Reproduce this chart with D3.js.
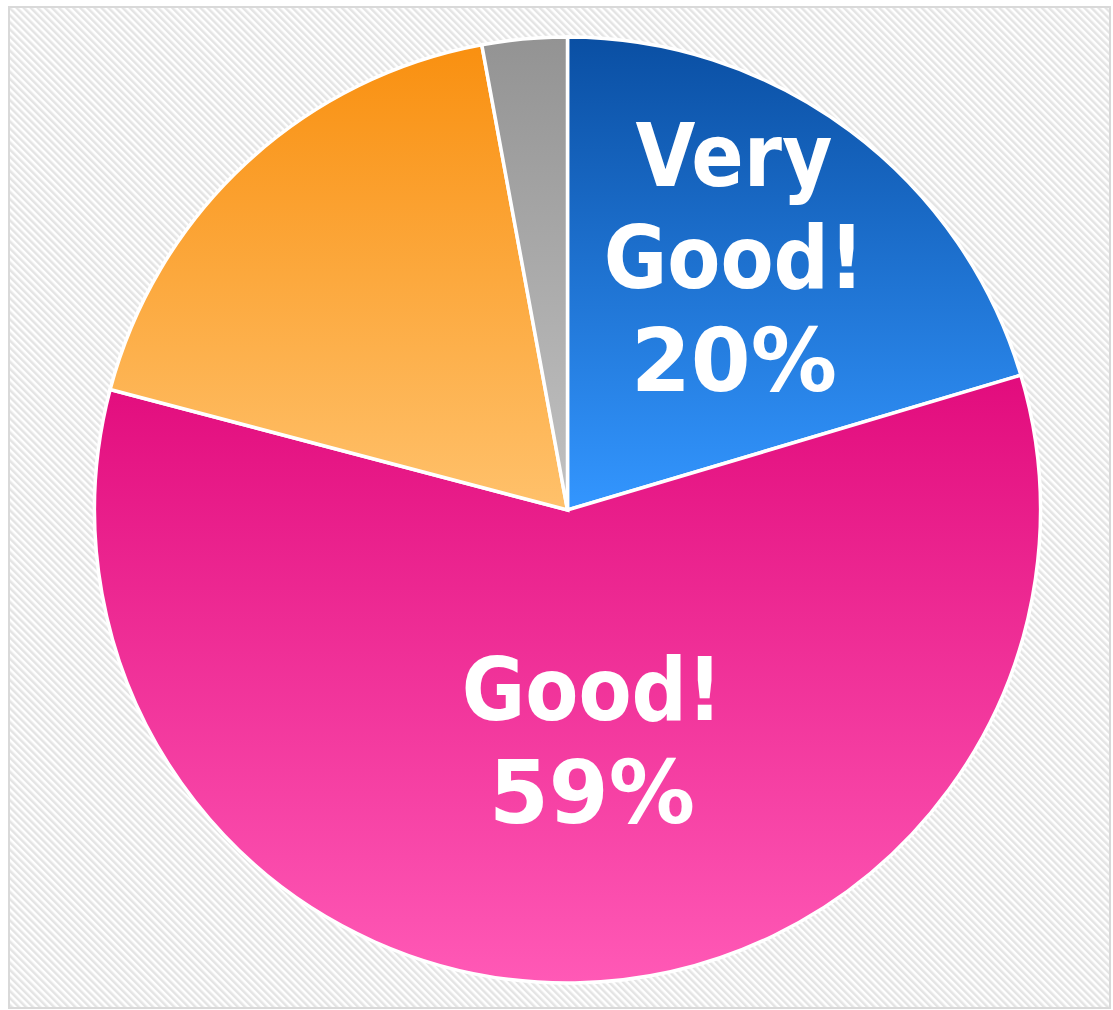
<!DOCTYPE html>
<html>
<head>
<meta charset="utf-8">
<script src="https://cdn.jsdelivr.net/npm/d3@7"></script>
<style>
  html, body { margin: 0; padding: 0; background: #ffffff; }
  svg { display: block; }
</style>
</head>
<body>
<div id="chart"></div>
<script>
// ---- data ----
const categories = ["Very Good!", "Good!", "Fair", "Poor"];
const values = [20.4, 58.7, 18.0, 2.9];
const showLabel = [true, true, false, false];
const gradTop = ["#0a4fa3", "#e20c7d", "#f99010", "#939393"];
const gradBottom = ["#3396ff", "#ff59b6", "#ffc16b", "#c2c2c2"];

const W = 1113, H = 1010;
const cx = 567.5, cy = 510, R = 473;

const svg = d3.select("#chart").append("svg")
  .attr("width", W).attr("height", H);

const defs = svg.append("defs");
const pat = defs.append("pattern")
  .attr("id", "stripes")
  .attr("patternUnits", "userSpaceOnUse")
  .attr("width", 5).attr("height", 5)
  .attr("patternTransform", "rotate(-45)");
pat.append("rect").attr("width", 5).attr("height", 5).attr("fill", "#ffffff");
pat.append("rect").attr("width", 2.5).attr("height", 5).attr("fill", "#e4e4e4");

categories.forEach((c, i) => {
  const g = defs.append("linearGradient")
    .attr("id", "grad" + i)
    .attr("x1", 0).attr("y1", 0).attr("x2", 0).attr("y2", 1);
  g.append("stop").attr("offset", "0%").attr("stop-color", gradTop[i]);
  g.append("stop").attr("offset", "100%").attr("stop-color", gradBottom[i]);
});

// background + border
svg.append("rect")
  .attr("x", 9).attr("y", 7).attr("width", W - 12).attr("height", H - 9)
  .attr("fill", "url(#stripes)")
  .attr("stroke", "#d9d9d9").attr("stroke-width", 2);

const pie = d3.pie().sort(null).value(d => d.v);
const data = pie(categories.map((c, i) => ({ c, v: values[i], i })));
const arc = d3.arc().innerRadius(0).outerRadius(R);

const g = svg.append("g").attr("transform", `translate(${cx},${cy})`);
g.selectAll("path.slice")
  .data(data)
  .join("path")
  .attr("class", "slice")
  .attr("d", arc)
  .attr("fill", d => `url(#grad${d.data.i})`)
  .attr("stroke", "#ffffff")
  .attr("stroke-width", 3.5)
  .attr("stroke-linejoin", "miter");

// labels
const total = d3.sum(values);
const labelPos = [[734, 288], [592, 720]];
data.forEach((d, k) => {
  if (!showLabel[d.data.i]) return;
  const pct = Math.round(d.data.v / total * 100) + "%";
  const words = d.data.c.split(" ");
  const lines = words.map(w => ({ t: w, s: 0.89 })).concat([{ t: pct, s: 0.99 }]);
  const lh = 102.5;
  const [px, py] = labelPos[k];
  const firstBaseline = py - (lines.length - 2) * lh;
  lines.forEach((ln, j) => {
    g.append("text")
      .attr("transform", `translate(${px - cx},${firstBaseline + j * lh - cy}) scale(${ln.s},1)`)
      .attr("text-anchor", "middle")
      .attr("font-family", "DejaVu Sans")
      .attr("font-weight", "bold")
      .attr("font-size", 87)
      .attr("fill", "#ffffff")
      .text(ln.t);
  });
});
</script>
</body>
</html>
